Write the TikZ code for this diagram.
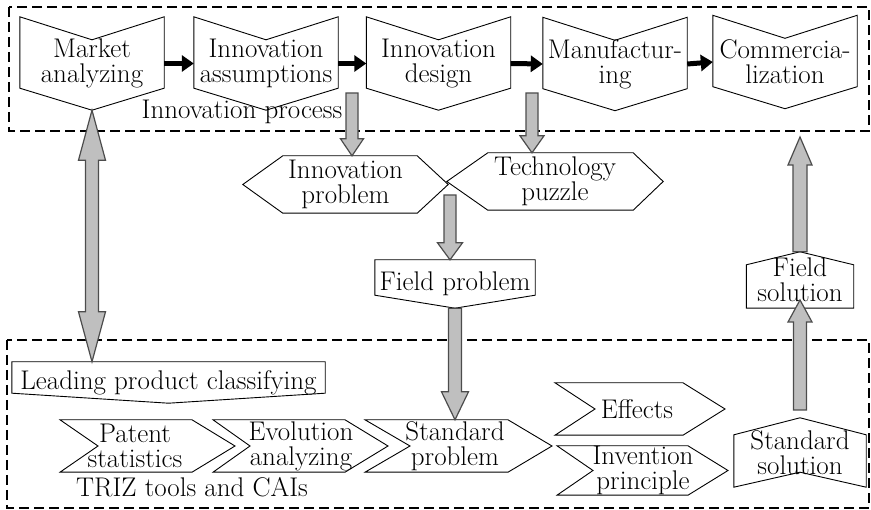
\documentclass[tikz,border=0pt]{standalone}
\usetikzlibrary{arrows.meta,calc}
\definecolor{arrowgray}{gray}{0.75}
\definecolor{edgegray}{gray}{0.3}
\tikzset{
  txt/.style={font=\fontsize{27}{25}\selectfont, align=center, inner sep=0pt},
  shp/.style={draw=black, line width=0.9pt, line join=miter},
  region/.style={draw=black, dash pattern=on 10pt off 5pt, line width=1.2pt},
  garrow/.style={draw=edgegray, fill=arrowgray, line width=1.2pt, line join=miter},
  blk/.style={line width=5pt, -{Triangle[length=12pt,width=16pt]}},
  proc/.style={txt, minimum width=144pt, minimum height=93pt},
  chev/.style={txt, minimum height=52pt}
}
% box with notch on top and point below
\newcommand{\procshape}[3]{%
  \draw[shp] (#1.north west) -- ([yshift=-#2]#1.north) -- (#1.north east)
    -- ([yshift=#3]#1.south east) -- (#1.south) -- ([yshift=#3]#1.south west) -- cycle;}
% box with point on top and notch below
\newcommand{\roofshape}[3]{%
  \draw[shp] (#1.north) -- ([yshift=-#2]#1.north east) -- (#1.south east)
    -- ([yshift=#3]#1.south) -- (#1.south west) -- ([yshift=-#2]#1.north west) -- cycle;}
% hexagon
\newcommand{\hexshape}[3]{%
  \draw[shp] (#1.west) -- ([xshift=#2]#1.north west) -- ([xshift=-#3]#1.north east)
    -- (#1.east) -- ([xshift=-#3]#1.south east) -- ([xshift=#2]#1.south west) -- cycle;}
% chevron pointing right (offsets from centre)
\newcommand{\chevshape}[5]{%
  \draw[shp] ([xshift=#2]#1.north) -- ([xshift=#4]#1.north) -- ([xshift=#5]#1.center)
    -- ([xshift=#4]#1.south) -- ([xshift=#2]#1.south) -- ([xshift=#3]#1.center) -- cycle;}
% gray block arrow: tail, tip, half shaft, half head, head length
\newcommand{\grayarrow}[5]{%
  \path ($(#2)!#5!(#1)$) coordinate (hb);
  \draw[garrow] ($(#1)!#3!90:(#2)$) -- ($(hb)!#3!90:(#2)$) -- ($(hb)!#4!90:(#2)$)
    -- (#2) -- ($(hb)!#4!-90:(#2)$) -- ($(hb)!#3!-90:(#2)$) -- ($(#1)!#3!-90:(#2)$) -- cycle;}
% gray block arrow with two heads
\newcommand{\grayboth}[5]{%
  \path ($(#1)!#5!(#2)$) coordinate (ha) ($(#2)!#5!(#1)$) coordinate (hb);
  \draw[garrow] (#1) -- ($(ha)!#4!90:(#2)$) -- ($(ha)!#3!90:(#2)$) -- ($(hb)!#3!90:(#2)$)
    -- ($(hb)!#4!90:(#2)$) -- (#2) -- ($(hb)!#4!-90:(#2)$) -- ($(hb)!#3!-90:(#2)$)
    -- ($(ha)!#3!-90:(#2)$) -- ($(ha)!#4!-90:(#2)$) -- cycle;}
\begin{document}
\begin{tikzpicture}[x=1pt,y=-1pt]
    \useasboundingbox (0,0) rectangle (871,510);
    % Regions
    \draw[region] (9,7) rectangle (869,131);
    \draw[region] (7,340) rectangle (869,508);
    % Innovation process
    \node[proc] (mkt) at (92,63.5) {Market\\analyzing};
    \node[proc] (ass) at (266,63.5) {Innovation\\assumptions};
    \node[proc] (des) at (438.5,63.5) {Innovation\\design};
    \node[proc] (man) at (615,64) {Manufactur-\\ing};
    \node[proc] (com) at (785,62) {Commercia-\\lization};
    \foreach \n in {mkt,ass,des,man,com} \procshape{\n}{23pt}{22pt};
    \node[txt] (iproc) at (242,112) {Innovation process};
    \foreach \a/\b in {mkt/ass,ass/des,des/man,man/com}
      \draw[blk] (\a.east) -- (\b.west);
    % Problems
    \node[txt, minimum width=205pt, minimum height=57pt] (ip) at (345.5,184.5) {Innovation\\problem};
    \hexshape{ip}{40pt}{31pt}
    \node[txt, minimum width=216pt, minimum height=57pt] (tp) at (555,181.5) {Technology\\puzzle};
    \hexshape{tp}{41pt}{30pt}
    \node[txt, minimum width=160pt, minimum height=48pt] (fp) at (455,284) {Field problem};
    \procshape{fp}{0pt}{13pt}
    % Solutions
    \node[txt, minimum width=107pt, minimum height=56pt] (fs) at (800,280) {Field\\solution};
    \roofshape{fs}{13pt}{0pt}
    \node[txt, minimum width=132pt, minimum height=69pt] (ss) at (800,452.5) {Standard\\solution};
    \roofshape{ss}{17pt}{15pt}
    % TRIZ tools and CAIs
    \node[txt, minimum width=313pt, minimum height=41pt] (lpc) at (168.5,382.5) {Leading product classifying};
    \procshape{lpc}{0pt}{10pt}
    \node[chev] (pat) at (135,446) {Patent\\statistics};
    \chevshape{pat}{-75pt}{-37pt}{57pt}{100pt}
    \node[chev] (evo) at (301,446) {Evolution\\analyzing};
    \chevshape{evo}{-88pt}{-51pt}{44pt}{87pt}
    \node[chev] (sp) at (455,446) {Standard\\problem};
    \chevshape{sp}{-90pt}{-45pt}{53pt}{97pt}
    \node[chev] (eff) at (637,409) {Effects};
    \chevshape{eff}{-82pt}{-42pt}{46pt}{88pt}
    \node[chev, minimum height=49pt] (inv) at (643,470.5) {Invention\\principle};
    \chevshape{inv}{-86pt}{-50pt}{45pt}{85pt}
    \node[txt] (triz) at (192,487) {TRIZ tools and CAIs};
    % Block arrows
    \coordinate (lpcTop) at (mkt.south |- lpc.north);
    \coordinate (d1) at (352,93);
    \coordinate (d2) at (532,93);
    \coordinate (d3) at (450,195);
    \coordinate (ipTop) at (d1 |- ip.north);
    \coordinate (tpTop) at (d2 |- tp.north);
    \coordinate (fpTop) at (d3 |- fp.north);
    \coordinate (spTop) at (fp.south |- sp.north);
    \coordinate (ssTop) at (800,410);
    \coordinate (fsIn) at (800,300);
    \coordinate (comIn) at (800,137);
    \grayboth{mkt.south}{lpcTop}{6.5pt}{13.5pt}{50pt}
    \grayarrow{d1}{ipTop}{6pt}{11.5pt}{17pt}
    \grayarrow{d2}{tpTop}{6pt}{12pt}{17pt}
    \grayarrow{d3}{fpTop}{6pt}{12.5pt}{17pt}
    \grayarrow{fp.south}{spTop}{6.5pt}{13.5pt}{28pt}
    \grayarrow{ssTop}{fsIn}{6.5pt}{12pt}{22pt}
    \grayarrow{fs.north}{comIn}{7pt}{12pt}{28pt}
\end{tikzpicture}
\end{document}
